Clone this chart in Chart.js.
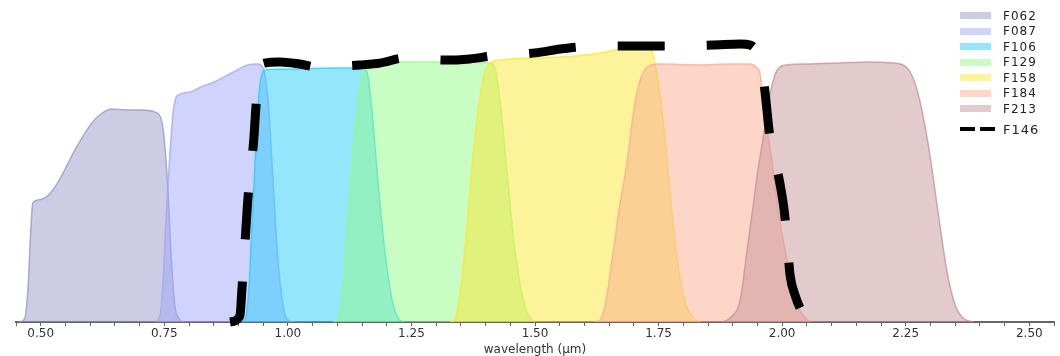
<!DOCTYPE html>
<html>
<head>
<meta charset="utf-8">
<script src="https://cdn.jsdelivr.net/npm/chart.js@4.4.1/dist/chart.umd.min.js"></script>
<style>
  html, body { margin: 0; padding: 0; background: #fff; }
  #wrap { position: relative; width: 1060px; height: 356px; }
  #legend { position: absolute; left: 960px; top: 8px; font-family: "DejaVu Sans", sans-serif; font-size: 12px; color: #222; letter-spacing: 1px; }
  .row { display: flex; align-items: center; height: 15.5px; }
  .sw { width: 31px; height: 7px; margin-right: 12px; }
  .dash { width: 35px; height: 4px; margin-right: 8px; background: linear-gradient(90deg, #000 0 15px, transparent 15px 20px, #000 20px 35px); }
</style>
</head>
<body>
<div id="wrap">
  <canvas id="filterChart" width="1060" height="356"></canvas>
  <div id="legend"></div>
</div>
<script>
// filter transmission curves (wavelength in um, throughput)
const f062Wl = [0.455, 0.462, 0.468, 0.474, 0.480, 0.484, 0.495, 0.512, 0.534, 0.569, 0.603, 0.619, 0.643, 0.676, 0.704, 0.734, 0.747, 0.753, 0.758, 0.764, 0.771, 0.780, 0.790];
const f062Tr = [0, 0.003, 0.013, 0.107, 0.307, 0.397, 0.407, 0.418, 0.463, 0.573, 0.663, 0.69, 0.71, 0.707, 0.707, 0.698, 0.65, 0.55, 0.42, 0.22, 0.06, 0.01, 0];

const f087Wl = [0.733, 0.742, 0.748, 0.753, 0.758, 0.763, 0.768, 0.773, 0.779, 0.805, 0.825, 0.852, 0.886, 0.919, 0.939, 0.949, 0.960, 0.970, 0.980, 0.992, 1.004, 1.014];
const f087Tr = [0, 0.03, 0.15, 0.33, 0.47, 0.6, 0.7, 0.745, 0.757, 0.768, 0.784, 0.801, 0.83, 0.857, 0.86, 0.85, 0.74, 0.473, 0.207, 0.04, 0.003, 0];

const f106Wl = [0.903, 0.913, 0.921, 0.927, 0.933, 0.939, 0.945, 0.953, 1.004, 1.085, 1.146, 1.160, 1.170, 1.182, 1.196, 1.211, 1.223, 1.235];
const f106Tr = [0, 0.007, 0.107, 0.307, 0.507, 0.707, 0.807, 0.84, 0.843, 0.847, 0.847, 0.833, 0.707, 0.473, 0.24, 0.073, 0.013, 0];

const f129Wl = [1.091, 1.101, 1.111, 1.121, 1.132, 1.142, 1.150, 1.162, 1.206, 1.287, 1.368, 1.409, 1.419, 1.429, 1.443, 1.457, 1.472, 1.486, 1.500];
const f129Tr = [0, 0.007, 0.107, 0.34, 0.573, 0.74, 0.823, 0.857, 0.867, 0.867, 0.867, 0.863, 0.847, 0.74, 0.507, 0.273, 0.107, 0.023, 0];

const f158Wl = [1.328, 1.338, 1.348, 1.360, 1.372, 1.385, 1.397, 1.409, 1.429, 1.551, 1.632, 1.682, 1.723, 1.737, 1.747, 1.757, 1.769, 1.783, 1.800, 1.818, 1.834];
const f158Tr = [0, 0.007, 0.09, 0.273, 0.507, 0.707, 0.823, 0.863, 0.873, 0.883, 0.897, 0.913, 0.917, 0.9, 0.823, 0.707, 0.507, 0.273, 0.09, 0.017, 0];

const f184Wl = [1.621, 1.632, 1.642, 1.656, 1.670, 1.686, 1.700, 1.713, 1.727, 1.753, 1.834, 1.895, 1.935, 1.949, 1.955, 1.966, 1.980, 1.992, 2.006, 2.016, 2.030, 2.043, 2.057];
const f184Tr = [0, 0.007, 0.057, 0.207, 0.373, 0.53, 0.707, 0.807, 0.85, 0.86, 0.857, 0.86, 0.86, 0.847, 0.83, 0.68, 0.53, 0.37, 0.24, 0.15, 0.06, 0.02, 0];

const f213Wl = [1.880, 1.890, 1.900, 1.910, 1.918, 1.929, 1.941, 1.951, 1.961, 1.976, 1.990, 2.010, 2.057, 2.117, 2.172, 2.225, 2.253, 2.273, 2.294, 2.314, 2.334, 2.350, 2.366, 2.387];
const f213Tr = [0, 0.008, 0.022, 0.045, 0.1, 0.24, 0.383, 0.507, 0.607, 0.763, 0.84, 0.857, 0.86, 0.863, 0.867, 0.863, 0.847, 0.773, 0.607, 0.383, 0.163, 0.057, 0.013, 0];

const f146Wl = [0.883, 0.903, 0.907, 0.911, 0.915, 0.919, 0.925, 0.931, 0.935, 0.939, 0.945, 0.953, 0.984, 1.024, 1.059, 1.105, 1.146, 1.186, 1.237, 1.318, 1.368, 1.415, 1.500, 1.551, 1.591, 1.676, 1.773, 1.860, 1.915, 1.935, 1.949, 1.960, 1.966, 1.976, 1.988, 1.996, 2.004, 2.010, 2.016, 2.026, 2.036, 2.049];
const f146Tr = [0, 0.02, 0.107, 0.207, 0.307, 0.407, 0.507, 0.607, 0.707, 0.79, 0.847, 0.863, 0.867, 0.86, 0.85, 0.853, 0.857, 0.863, 0.88, 0.873, 0.877, 0.887, 0.897, 0.91, 0.917, 0.92, 0.92, 0.923, 0.927, 0.923, 0.9, 0.84, 0.757, 0.607, 0.523, 0.457, 0.373, 0.273, 0.157, 0.09, 0.047, 0.013];

const filterNames = ['F062', 'F087', 'F106', 'F129', 'F158', 'F184', 'F213'];
const filterWl = [f062Wl, f087Wl, f106Wl, f129Wl, f158Wl, f184Wl, f213Wl];
const filterTr = [f062Tr, f087Tr, f106Tr, f129Tr, f158Tr, f184Tr, f213Tr];
const filterRgb = ['153,153,201', '161,167,247', '41,205,251', '145,251,137', '251,231,53', '251,173,145', '199,149,155'];

const xMin = 0.45, xMax = 2.55;

function toPoints(wl, tr) {
  return wl.map((w, i) => ({ x: w, y: tr[i] }));
}

const datasets = filterNames.map((name, i) => ({
  label: name,
  data: toPoints(filterWl[i], filterTr[i]),
  backgroundColor: 'rgba(' + filterRgb[i] + ',0.5)',
  borderColor: 'rgba(' + filterRgb[i] + ',0.8)',
  borderWidth: 1.5,
  fill: 'origin',
  pointRadius: 0,
  cubicInterpolationMode: 'monotone',
  order: filterNames.length - i
}));

datasets.push({
  label: 'F146',
  data: toPoints(f146Wl, f146Tr),
  borderColor: '#000',
  borderWidth: 9,
  borderDash: [47, 42],
  fill: false,
  pointRadius: 0,
  cubicInterpolationMode: 'monotone',
  clip: 20,
  order: 0
});

// legend built as html
const legend = document.getElementById('legend');
filterNames.forEach((name, i) => {
  legend.innerHTML += '<div class="row"><div class="sw" style="background:rgba(' + filterRgb[i] + ',0.5)"></div>' + name + '</div>';
});
legend.innerHTML += '<div class="row" style="margin-top:5px;font-size:13px"><div class="dash"></div>F146</div>';

const ctx = document.getElementById('filterChart').getContext('2d');
new Chart(ctx, {
  type: 'line',
  data: { datasets: datasets },
  options: {
    responsive: false,
    animation: false,
    layout: { padding: { left: 16, right: 6, top: 22, bottom: 0 } },
    plugins: {
      legend: { display: false },
      tooltip: { enabled: false }
    },
    scales: {
      x: {
        type: 'linear',
        min: xMin,
        max: xMax,
        border: { display: true, color: '#666', width: 2 },
        grid: { display: true, drawOnChartArea: false, drawTicks: true, tickLength: 4, color: '#666' },
        ticks: {
          stepSize: 0.05,
          autoSkip: false,
          maxRotation: 0,
          padding: 2,
          color: '#333',
          font: { family: 'DejaVu Sans', size: 12, lineHeight: 1 },
          callback: function (value) {
            const q = Math.round(value * 100);
            return q % 25 === 0 ? (q / 100).toFixed(2) : '';
          }
        },
        title: {
          display: true,
          text: 'wavelength (μm)',
          color: '#333',
          font: { family: 'DejaVu Sans', size: 12, lineHeight: 1 },
          padding: { top: 2, bottom: 0 }
        }
      },
      y: { display: false, min: 0, max: 1 }
    }
  }
});
</script>
</body>
</html>
